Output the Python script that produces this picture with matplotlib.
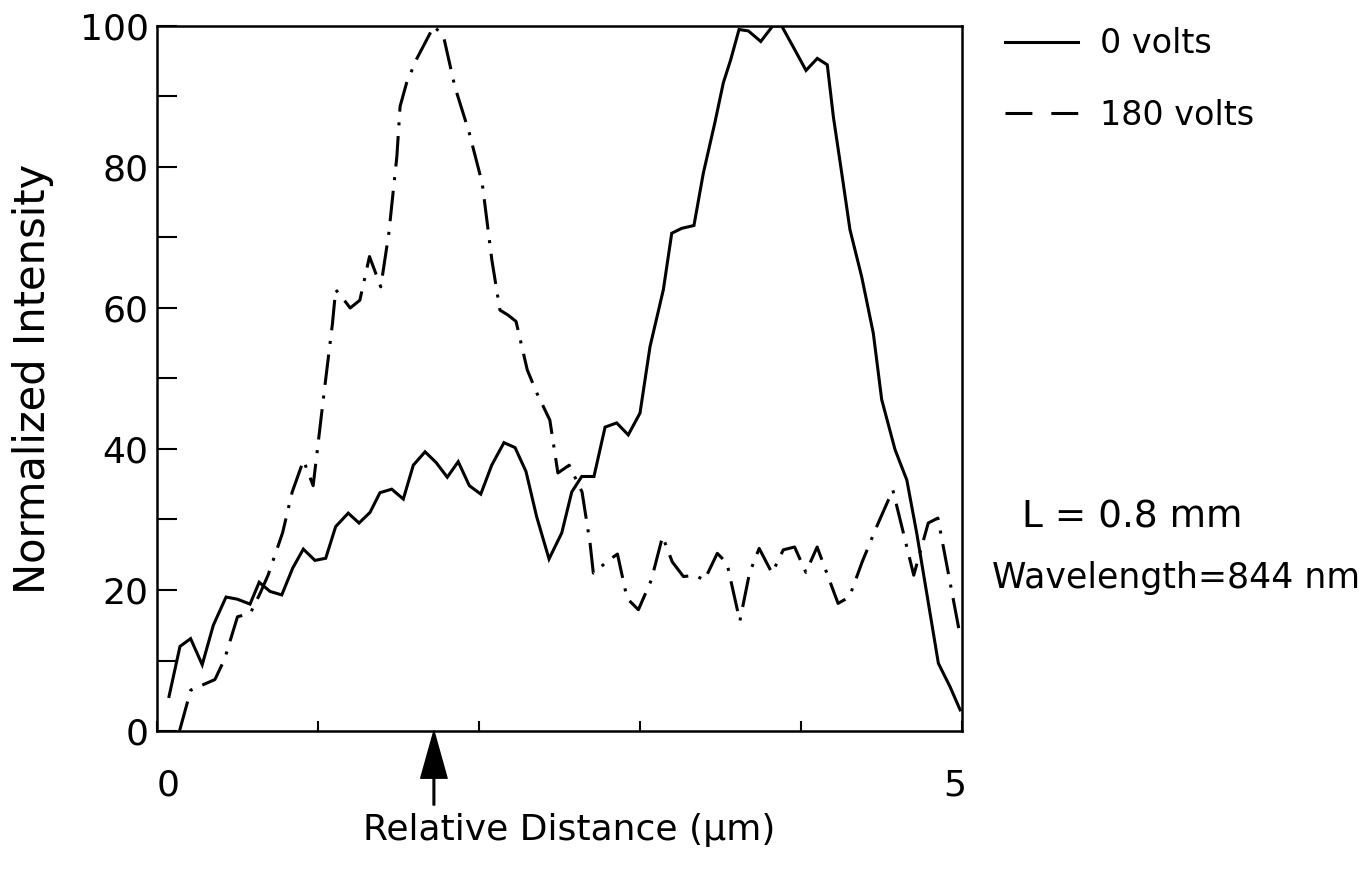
"""
Intensity profiles across the waveguide at 0 V and 180 V
"""

import matplotlib.pyplot as plt
import matplotlib.transforms as mtransforms
from matplotlib.lines import Line2D

plt.rcParams["font.family"] = ["DejaVu Sans"]

# 0 volts profile
x_0v = [0.075, 0.143, 0.209, 0.281, 0.350, 0.429, 0.499, 0.578, 0.635, 0.702,
        0.775, 0.843, 0.909, 0.981, 1.048, 1.110, 1.188, 1.255, 1.323, 1.385,
        1.458, 1.530, 1.592, 1.665, 1.733, 1.803, 1.871, 1.940, 2.011, 2.079,
        2.155, 2.224, 2.292, 2.358, 2.435, 2.514, 2.576, 2.638, 2.714, 2.783,
        2.855, 2.927, 3.000, 3.062, 3.145, 3.197, 3.259, 3.335, 3.393, 3.466,
        3.517, 3.563, 3.615, 3.673, 3.750, 3.824, 3.880, 3.957, 4.031, 4.101,
        4.163, 4.201, 4.253, 4.304, 4.377, 4.449, 4.501, 4.584, 4.657, 4.719,
        4.781, 4.853, 4.925, 4.988]
y_0v = [4.9, 12.0, 13.1, 9.4, 15.0, 19.0, 18.7, 18.0, 21.1, 19.8,
        19.3, 23.1, 25.8, 24.2, 24.5, 29.0, 30.9, 29.5, 31.0, 33.8,
        34.3, 32.9, 37.7, 39.6, 38.1, 36.0, 38.2, 34.8, 33.6, 37.7,
        40.9, 40.2, 36.8, 30.4, 24.4, 28.1, 33.9, 36.1, 36.1, 43.1,
        43.7, 42.0, 45.1, 54.5, 62.6, 70.6, 71.3, 71.7, 79.1, 86.4,
        91.9, 95.2, 99.5, 99.3, 97.8, 100.0, 100.0, 96.8, 93.7, 95.4,
        94.5, 87.1, 79.1, 71.1, 64.4, 56.4, 47.0, 39.9, 35.6, 28.0,
        19.5, 9.6, 6.3, 3.0]

# 180 volts profile
x_180v = [0.14, 0.21, 0.36, 0.42, 0.50, 0.55, 0.58, 0.64, 0.69, 0.78,
          0.84, 0.91, 0.97, 1.04, 1.09, 1.11, 1.17, 1.20, 1.26, 1.32,
          1.39, 1.44, 1.49, 1.51, 1.55, 1.61, 1.72, 1.78, 1.85, 1.94,
          2.02, 2.08, 2.13, 2.18, 2.23, 2.30, 2.36, 2.44, 2.49, 2.56,
          2.64, 2.69, 2.71, 2.81, 2.86, 2.92, 2.99, 3.07, 3.14, 3.20,
          3.27, 3.34, 3.40, 3.48, 3.54, 3.62, 3.68, 3.74, 3.82, 3.89,
          3.96, 4.03, 4.10, 4.23, 4.30, 4.38, 4.47, 4.57, 4.70, 4.79,
          4.85, 4.99]
y_180v = [0.0, 5.8, 7.3, 10.2, 16.2, 16.5, 16.7, 19.5, 22.1, 28.1,
          33.9, 38.4, 34.8, 48.4, 57.8, 62.6, 60.9, 60.0, 61.1, 67.3,
          63.0, 70.6, 81.5, 88.6, 91.9, 95.2, 100.0, 98.5, 91.4, 84.8,
          77.7, 66.8, 59.7, 59.0, 58.1, 51.2, 47.9, 44.1, 36.6, 37.7,
          33.9, 26.6, 22.4, 24.3, 25.1, 18.8, 17.2, 21.4, 27.6, 24.0,
          21.9, 22.1, 21.4, 25.2, 23.8, 15.6, 22.4, 25.9, 22.4, 25.7,
          26.1, 22.5, 26.1, 18.1, 19.0, 24.0, 29.0, 34.2, 22.1, 29.5,
          30.2, 13.3]

peak_180v = 1.72  # position marked by the arrow

fig = plt.figure(figsize=(13.72, 8.69), dpi=100)
ax = fig.add_axes([0.1144, 0.1588, 0.5868, 0.8113])

ax.plot(x_0v, y_0v, color="black", linewidth=2.2, solid_joinstyle="miter")
ax.plot(x_180v, y_180v, color="black", linewidth=2.2,
        linestyle=(0, (10, 3.5, 1, 3.5)), dash_capstyle="butt")

ax.set_xlim(0, 5)
ax.set_ylim(0, 100)

# оси
for sp in ax.spines.values():
    sp.set_linewidth(1.8)
ax.set_yticks(range(0, 101, 20))
ax.set_yticks(range(0, 101, 10), minor=True)
ax.tick_params(axis="y", which="both", direction="in", length=14.5,
               width=1.5, labelsize=26, pad=6)
ax.set_xticks([0, 1, 2, 3, 4, 5])
ax.set_xticklabels(["0", "", "", "", "", "5"])
ax.tick_params(axis="x", direction="in", length=7, width=1.5,
               labelsize=26, pad=27)
for lab, dx in zip(ax.get_xticklabels(), [8, 0, 0, 0, 0, -5]):
    lab.set_transform(lab.get_transform()
                      + mtransforms.ScaledTranslation(dx / 72, 0, fig.dpi_scale_trans))

ax.set_ylabel("Normalized Intensity", fontsize=30)
ax.yaxis.set_label_coords(-0.128, 0.5)
ax.set_xlabel("Relative Distance (µm)", fontsize=26)
ax.xaxis.set_label_coords(0.512, -0.117)

# стрелка под пиком 180 В
ax.annotate("", xy=(peak_180v, 0), xytext=(peak_180v, -10.5),
            annotation_clip=False,
            arrowprops=dict(facecolor="black", edgecolor="black",
                            width=1.2, headwidth=19, headlength=34, shrink=0))

# легенда справа от графика
handles = [Line2D([], [], color="black", linewidth=2.2),
           Line2D([], [], color="black", linewidth=2.2, linestyle=(0, (8.8, 6.2)))]
ax.legend(handles, ["0 volts", "180 volts"], loc="upper left",
          bbox_to_anchor=(1.053, 0.998), frameon=False, fontsize=24,
          handlelength=2.2, handletextpad=0.65, labelspacing=1.15,
          borderpad=0, borderaxespad=0)

fig.text(1022 / 1372, 1 - 518 / 869, "L = 0.8 mm", fontsize=27,
         va="center", ha="left")
fig.text(992 / 1372, 1 - 578 / 869, "Wavelength=844 nm", fontsize=25,
         va="center", ha="left")

plt.savefig("out.png", dpi=100)
